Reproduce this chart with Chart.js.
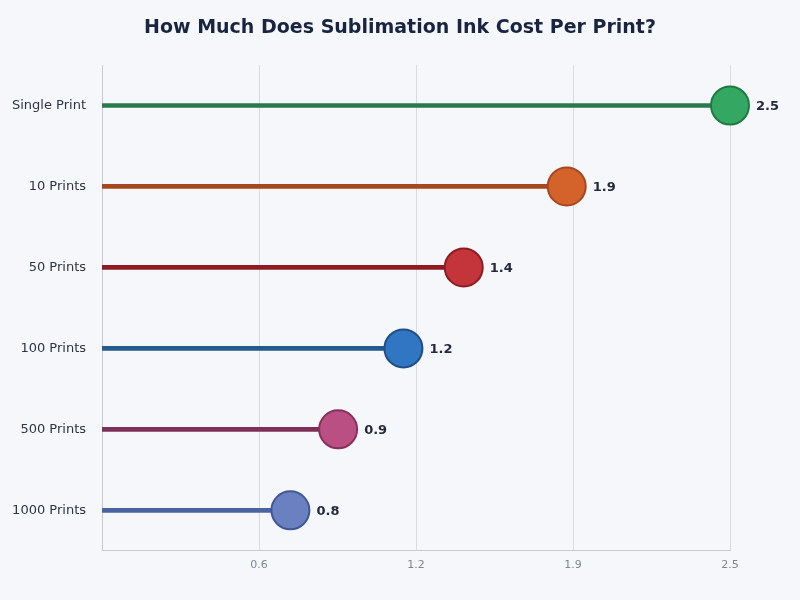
<!DOCTYPE html>
<html><head><meta charset="utf-8">
<script src="https://cdn.jsdelivr.net/npm/chart.js@4/dist/chart.umd.min.js"></script>
<style>html,body{margin:0;background:#f5f7fb;}#w{width:800px;height:600px;}</style>
</head><body><div id="w"><canvas id="c"></canvas></div>
<script>
const categories = ["Single Print","10 Prints","50 Prints","100 Prints","500 Prints","1000 Prints"];
const costs = [2.5, 1.85, 1.44, 1.2, 0.94, 0.75];
const tickValues = [0.625, 1.25, 1.875, 2.5];
const tickLabels = ["0.6","1.2","1.9","2.5"];
const lineColors = ["#2a7a4b","#a8461f","#8c1c22","#245a8c","#7d3055","#4a64a0"];
const dotColors = ["#34a862","#d4632b","#c4343b","#3176c2","#b94f83","#6b80c0"];
const dotBorders = ["#1f7a42","#a8461f","#8c1c22","#1f4f85","#8a2f5c","#3f5795"];
const titleText = 'How Much Does Sublimation Ink Cost Per Print?';

const labelPlugin = {
  id:'lbl',
  afterDatasetsDraw(chart){
    const ctx = chart.ctx, meta = chart.getDatasetMeta(1);
    ctx.save();
    ctx.font = 'bold 13px "DejaVu Sans"';
    ctx.fillStyle = '#232a3d';
    ctx.textBaseline = 'middle';
    meta.data.forEach((p,i)=>{ ctx.fillText(costs[i].toFixed(1), p.x+26, p.y+1); });
    ctx.font = 'bold 19px "DejaVu Sans"';
    ctx.fillStyle = '#182440';
    ctx.textAlign = 'center';
    ctx.fillText(titleText, chart.width/2, 28);
    ctx.restore();
  }
};

new Chart(document.getElementById('c'), {
  data:{
    labels:categories,
    datasets:[
      {type:'bar', order:2, data:costs, backgroundColor:lineColors, barThickness:4, borderWidth:0},
      {type:'line', order:1, clip:false, data:costs, showLine:false, pointRadius:19, pointHoverRadius:19,
       pointBackgroundColor:dotColors, pointBorderColor:dotBorders, pointBorderWidth:2}
    ]
  },
  options:{
    indexAxis:'y', responsive:true, maintainAspectRatio:false, animation:false,
    layout:{padding:{left:4,right:70,top:65,bottom:20}},
    plugins:{legend:{display:false}, tooltip:{enabled:false}, title:{display:false}},
    scales:{
      x:{min:0, max:2.5, grid:{color:'#d9dbe0', drawTicks:false}, border:{color:'#c8cad0'},
        afterBuildTicks(s){ s.ticks = tickValues.map(v=>({value:v})); },
        ticks:{color:'#808590', font:{family:'DejaVu Sans', size:11}, padding:8,
          callback:(v,i)=>tickLabels[i]}},
      y:{grid:{display:false}, border:{color:'#c8cad0'},
        ticks:{color:'#2e3444', font:{family:'DejaVu Sans', size:13}, padding:8}}
    }
  },
  plugins:[labelPlugin]
});
</script></body></html>
